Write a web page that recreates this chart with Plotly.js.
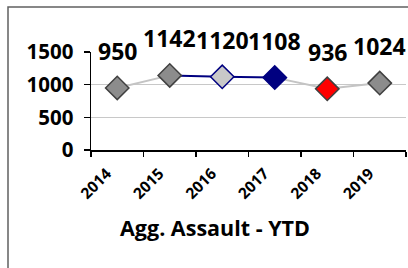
<!DOCTYPE html>
<html>
<head>
<meta charset="utf-8">
<script src="https://cdn.plot.ly/plotly-3.0.1.min.js"></script>
<style>
html,body{margin:0;padding:0;background:#fff;}
#chart{width:408px;height:268px;}
</style>
</head>
<body>
<div id="chart"></div>
<script>
// ---- data ----
const years = [2014, 2015, 2016, 2017, 2018, 2019];
const values = [950, 1142, 1120, 1108, 936, 1024];
const tickLabels = ["2014", "2015", "2016", "2017", "2018", "2019"];
const chartTitle = "Agg. Assault - YTD";

// ---- styles ----
const markerFill = ["#8c8c8c", "#8c8c8c", "#c8c8c8", "#000080", "#ff0000", "#8c8c8c"];
const markerEdge = ["#404040", "#404040", "#000080", "#000080", "#404040", "#404040"];
const segmentColor = ["#c4c4c4", "#000080", "#000080", "#c4c4c4", "#c4c4c4"];
const FONT = "Open Sans, Liberation Sans, sans-serif";

const traces = [];
for (let i = 0; i < years.length - 1; i++) {
  traces.push({
    x: [years[i], years[i + 1]],
    y: [values[i], values[i + 1]],
    type: "scatter",
    mode: "lines",
    line: { color: segmentColor[i], width: 2 },
    hoverinfo: "skip",
    showlegend: false
  });
}
traces.push({
  x: years,
  y: values,
  type: "scatter",
  mode: "markers",
  marker: {
    symbol: "diamond",
    size: 18,
    color: markerFill,
    line: { color: markerEdge, width: 1.5 }
  },
  showlegend: false,
  cliponaxis: false
});

const annotations = years.map((yr, i) => ({
  x: yr, y: values[i], xref: "x", yref: "y",
  text: String(values[i]),
  showarrow: false,
  yshift: 37,
  xanchor: "center", yanchor: "middle",
  font: { family: FONT, size: 23, color: "#000", weight: "bold" }
}));

const layout = {
  width: 408, height: 268,
  margin: { l: 91, r: 2, t: 52, b: 118, pad: 0 },
  paper_bgcolor: "#fff",
  plot_bgcolor: "#fff",
  showlegend: false,
  title: {
    text: "<b>" + chartTitle + "</b>",
    font: { family: FONT, size: 21.5, color: "#000" },
    x: 215 / 408, xref: "container", xanchor: "center",
    y: 1 - 228 / 268, yref: "container", yanchor: "middle"
  },
  xaxis: {
    type: "linear",
    range: [years[0] - 0.5, years[years.length - 1] + 0.5],
    tickvals: years.map(y => y - 0.2),
    ticktext: tickLabels.map(t => "<b>" + t + "</b>"),
    tickangle: -45,
    ticks: "",
    ticklabelstandoff: 7,
    showgrid: false,
    zeroline: false,
    showline: true,
    linecolor: "#000",
    linewidth: 1.5,
    tickfont: { family: FONT, size: 15.5, color: "#000" },
    minor: {
      tick0: years[0] - 0.5, dtick: 1,
      ticks: "outside", ticklen: 5, tickcolor: "#000", tickwidth: 1.5,
      showgrid: false
    },
    fixedrange: true
  },
  yaxis: {
    range: [0, 1500],
    tickvals: [0, 500, 1000, 1500],
    ticktext: ["<b>0</b>", "<b>500</b>", "<b>1000</b>", "<b>1500</b>"],
    ticks: "outside",
    ticklen: 6,
    tickcolor: "#000",
    tickwidth: 1.5,
    ticklabelstandoff: 6,
    showgrid: true,
    gridcolor: "#c8c8c8",
    gridwidth: 1.5,
    zeroline: false,
    showline: true,
    linecolor: "#000",
    linewidth: 1.5,
    tickfont: { family: FONT, size: 20.5, color: "#000" },
    fixedrange: true
  },
  annotations: annotations,
  shapes: [{
    type: "rect", xref: "paper", yref: "paper",
    x0: (8 - 91) / 315, x1: 1.2,
    y0: -2, y1: (150 - 7) / 98,
    line: { color: "#606060", width: 1.5 },
    fillcolor: "rgba(0,0,0,0)",
    layer: "below"
  }]
};

Plotly.newPlot("chart", traces, layout, { displayModeBar: false, staticPlot: true });
</script>
</body>
</html>
